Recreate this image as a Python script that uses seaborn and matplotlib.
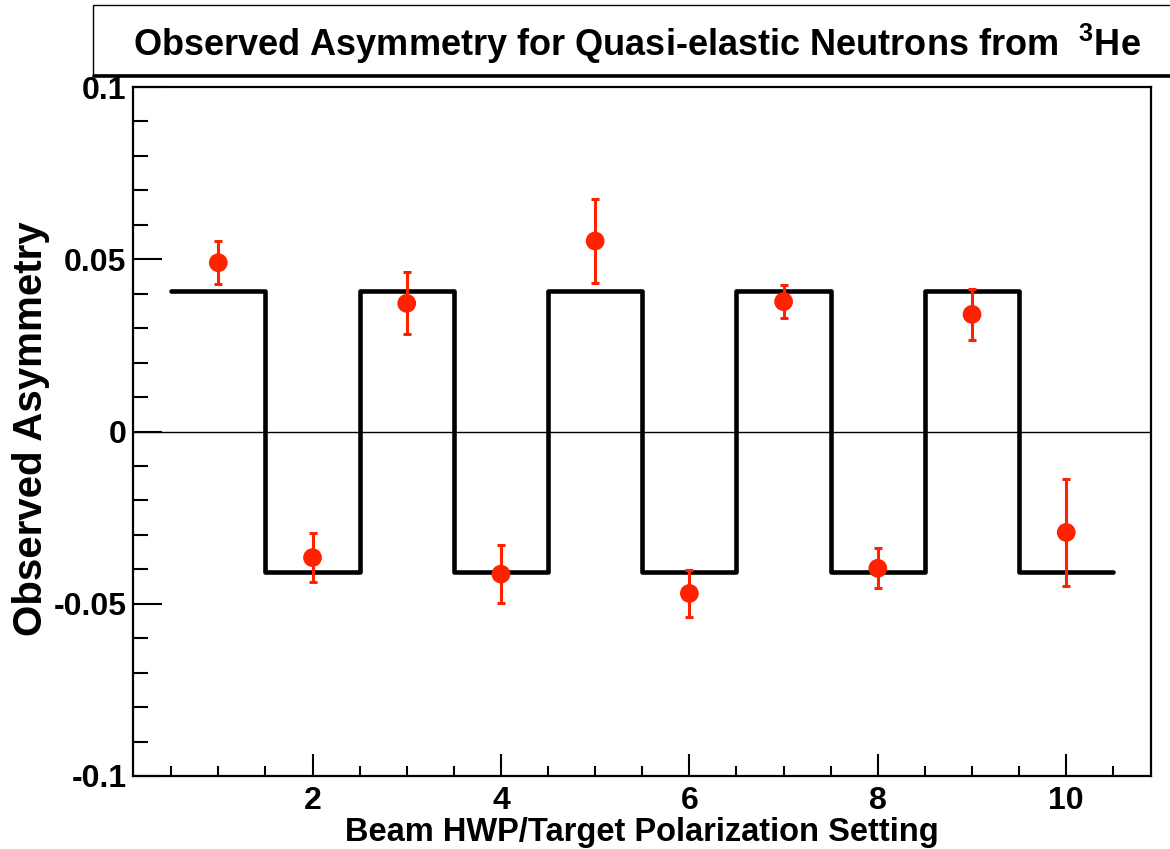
import numpy as np
import pandas as pd
import matplotlib
matplotlib.use("Agg")
import matplotlib.pyplot as plt
from matplotlib.patches import Rectangle
from matplotlib.lines import Line2D
from matplotlib.ticker import MultipleLocator, FixedLocator, FixedFormatter
import seaborn as sns

# ---- data ----
settings = [1, 2, 3, 4, 5, 6, 7, 8, 9, 10]
asym = [0.0490, -0.0366, 0.0372, -0.0414, 0.0553, -0.0470, 0.0377, -0.0397, 0.0340, -0.0293]
asym_err = [0.0063, 0.0070, 0.0090, 0.0085, 0.0122, 0.0068, 0.0048, 0.0058, 0.0074, 0.0155]
step_levels = [0.0408, -0.0408, 0.0408, -0.0408, 0.0408, -0.0408, 0.0408, -0.0408, 0.0408, -0.0408]
y_ticks = [-0.1, -0.05, 0.0, 0.05, 0.1]
y_tick_labels = ["-0.1", "-0.05", "0", "0.05", "0.1"]
x_ticks = [2, 4, 6, 8, 10]
x_tick_labels = ["2", "4", "6", "8", "10"]
title = "Observed Asymmetry for Quasi-elastic Neutrons from  $^{3}$He"
xlabel = "Beam HWP/Target Polarization Setting"
ylabel = "Observed Asymmetry"

sns.set_theme(style="ticks")
plt.rcParams["font.family"] = ["Liberation Sans", "DejaVu Sans"]
plt.rcParams["font.weight"] = "bold"
plt.rcParams["text.color"] = "black"
plt.rcParams["axes.labelcolor"] = "black"
plt.rcParams["xtick.color"] = "black"
plt.rcParams["ytick.color"] = "black"
plt.rcParams["xtick.labelcolor"] = "black"
plt.rcParams["ytick.labelcolor"] = "black"
plt.rcParams["mathtext.fontset"] = "custom"
plt.rcParams["mathtext.rm"] = "Liberation Sans:bold"
plt.rcParams["mathtext.it"] = "Liberation Sans:bold"
plt.rcParams["mathtext.bf"] = "Liberation Sans:bold"
plt.rcParams["mathtext.default"] = "rm"

red = "#ff2200"

fig = plt.figure(figsize=(11.7, 8.49), dpi=100)
ax = fig.add_axes([0.1141, 0.0860, 0.8697, 0.8115])

# step function (bin edges from settings)
s = np.array(settings, dtype=float)
step_df = pd.DataFrame({
    "x": np.append(s - 0.5, s[-1] + 0.5),
    "y": np.append(step_levels, step_levels[-1]),
})
sns.lineplot(data=step_df, x="x", y="y", ax=ax, color="black", lw=3.3,
             drawstyle="steps-post", estimator=None, sort=False, zorder=3)

# zero line
ax.axhline(0, color="black", lw=1.0, zorder=1)

# data points with error bars
pts = pd.DataFrame({"x": settings, "y": asym, "e": asym_err})
ax.errorbar(pts["x"], pts["y"], yerr=pts["e"], fmt="none", ecolor=red,
            elinewidth=2.2, capsize=3.0, capthick=2.2, zorder=4)
sns.scatterplot(data=pts, x="x", y="y", ax=ax, color=red, s=13.5**2,
                edgecolor="none", zorder=5)

ax.set_xlim(0.1, 10.9)
ax.set_ylim(-0.1, 0.1)

ax.xaxis.set_major_locator(FixedLocator(x_ticks))
ax.xaxis.set_major_formatter(FixedFormatter(x_tick_labels))
ax.xaxis.set_minor_locator(MultipleLocator(0.5))
ax.yaxis.set_major_locator(FixedLocator(y_ticks))
ax.yaxis.set_major_formatter(FixedFormatter(y_tick_labels))
ax.yaxis.set_minor_locator(MultipleLocator(0.01))

ax.tick_params(axis="both", which="both", direction="in", color="black",
               labelcolor="black", top=False, right=False)
ax.tick_params(axis="x", which="major", length=16, width=1.5, pad=7,
               labelsize=23)
ax.tick_params(axis="x", which="minor", length=7.5, width=1.5)
ax.tick_params(axis="y", which="major", length=21, width=1.5, pad=5,
               labelsize=23)
ax.tick_params(axis="y", which="minor", length=10.5, width=1.5)
for lab in ax.get_xticklabels() + ax.get_yticklabels():
    lab.set_fontweight("bold")

for sp in ax.spines.values():
    sp.set_linewidth(1.6)
    sp.set_color("black")
    sp.set_visible(True)

ax.set_xlabel("")
ax.set_ylabel("")
fig.text(0.5487, 1 - 832 / 849, xlabel, ha="center", va="center",
         fontsize=23.5, fontweight="bold", color="black")
fig.text(31 / 1170, 1 - 429 / 849, ylabel, ha="center", va="center",
         rotation=90, fontsize=29, fontweight="bold", color="black")

# title box (ROOT-style pave with shadow)
bx0, by0 = 93 / 1170, 1 - 75 / 849
by1 = 1 - 5 / 849
fig.add_artist(Rectangle((bx0, by0), 1.0, by1 - by0, transform=fig.transFigure,
                         fill=False, edgecolor="black", lw=1.0, clip_on=False))
fig.add_artist(Line2D([bx0 + 0.001, 1.0], [by0 - 0.0012, by0 - 0.0012],
                      transform=fig.transFigure, color="black", lw=2.6))
fig.text(637 / 1170, 1 - 44 / 849, title, ha="center", va="center",
         fontsize=26, fontweight="bold", color="black")

fig.savefig("out.png", dpi=100)
